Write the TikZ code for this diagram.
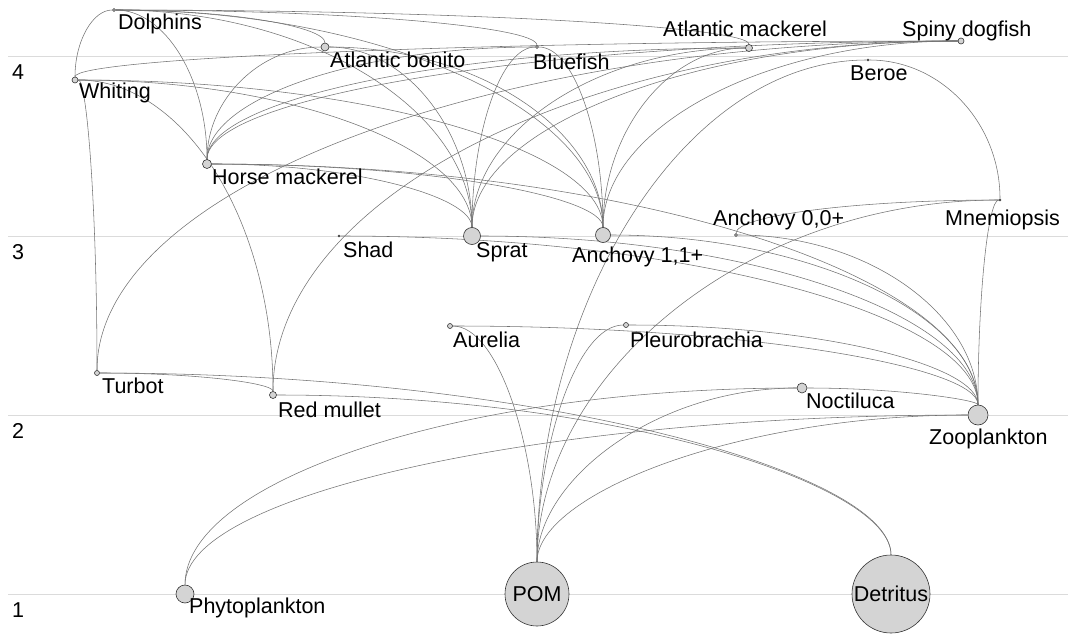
\documentclass[tikz,border=0pt]{standalone}
\usepackage{fontspec}
\setmainfont{Liberation Sans}
\usetikzlibrary{calc,backgrounds}

% feeding link: leaves the prey upwards and reaches the predator sideways
\newcommand{\fwlink}[2]{\draw[link] (#1) .. controls ($(#1)!0.5523!(#1|-#2)$) and ($(#2)!0.5523!(#1|-#2)$) .. (#2);}

\begin{document}
\begin{tikzpicture}[x=1pt,y=-1pt,
  sp/.style={circle, draw=black!80, fill=black!17, line width=0.6pt, inner sep=0pt, minimum size=#1},
  lab/.style={anchor=base west, inner sep=0pt, font=\fontsize{21.5}{24}\selectfont},
  link/.style={draw=black!55, line width=0.55pt},
  level/.style={draw=black!14, line width=1pt}]

\useasboundingbox (0,0) rectangle (1068,634);

% species
\node[sp=3pt]  (dol) at (114,10) {};
\node[sp=6pt]  (whi) at (75,80) {};
\node[sp=8pt]  (bon) at (325,47) {};
\node[sp=3pt]  (blu) at (537,47) {};
\node[sp=7pt]  (mac) at (749,48) {};
\node[sp=6pt]  (dog) at (961,41) {};
\node[sp=2pt]  (ber) at (868,60) {};
\node[sp=9pt]  (hmk) at (207,164) {};
\node[sp=2pt]  (shad) at (339,236) {};
\node[sp=17pt] (spr) at (472,236) {};
\node[sp=15pt] (anc) at (603,235) {};
\node[sp=3pt]  (an0) at (736,235) {};
\node[sp=2pt]  (mne) at (1000,200) {};
\node[sp=5pt]  (aur) at (450,326) {};
\node[sp=5pt]  (ple) at (626,325) {};
\node[sp=5pt]  (tur) at (97,373) {};
\node[sp=7pt]  (rmu) at (273,395) {};
\node[sp=10pt] (noc) at (802,388) {};
\node[sp=20pt] (zoo) at (978,415) {};
\node[sp=18pt] (phy) at (185,594) {};
\node[sp=64pt, font=\fontsize{21.5}{24}\selectfont] (pom) at (537,594) {POM};
\node[sp=78pt, font=\fontsize{21.5}{24}\selectfont] (det) at (891,594) {Detritus};

\begin{scope}[on background layer]
% trophic level guides
\foreach \yy/\tl in {57/4,236/3,415/2,594/1}{
  \draw[level] (8,\yy) -- (1068,\yy);
  \node[lab] (tl\tl) at (12,\yy+23) {\tl};
}
% links (prey -> predator)
\fwlink{phy}{zoo}
\fwlink{phy}{noc}
\fwlink{pom}{zoo}
\fwlink{pom}{noc}
\fwlink{pom}{aur}
\fwlink{pom}{ple}
\fwlink{pom}{mne}
\fwlink{pom}{ber}
\fwlink{det}{tur}
\fwlink{det}{rmu}
\fwlink{zoo}{noc}
\fwlink{zoo}{aur}
\fwlink{zoo}{ple}
\fwlink{zoo}{shad}
\fwlink{zoo}{spr}
\fwlink{zoo}{anc}
\fwlink{zoo}{an0}
\fwlink{zoo}{mne}
\fwlink{zoo}{hmk}
\fwlink{rmu}{tur}
\fwlink{rmu}{whi}
\fwlink{rmu}{dog}
\fwlink{tur}{whi}
\fwlink{tur}{dog}
\fwlink{an0}{mne}
\fwlink{mne}{ber}
\foreach \pd in {hmk,whi,dol,bon,blu,mac,dog}{
  \fwlink{spr}{\pd}
  \fwlink{anc}{\pd}
}
\foreach \pd in {dol,bon,blu,mac,dog}{
  \fwlink{hmk}{\pd}
}
\fwlink{whi}{dol}
\fwlink{whi}{dog}
\fwlink{bon}{dol}
\fwlink{blu}{dol}
\fwlink{mac}{dol}
\end{scope}

% names
\node[lab] (ldol) at (118,30) {Dolphins};
\node[lab] (lbon) at (330,67) {Atlantic bonito};
\node[lab] (lblu) at (533,70) {Bluefish};
\node[lab] (lmac) at (663,37) {Atlantic mackerel};
\node[lab] (ldog) at (902,37) {Spiny dogfish};
\node[lab] (lber) at (850,81) {Beroe};
\node[lab] (lwhi) at (79,99) {Whiting};
\node[lab] (lhmk) at (212,184) {Horse mackerel};
\node[lab] (lan0) at (713,225) {Anchovy 0,0+};
\node[lab] (lmne) at (945,225) {Mnemiopsis};
\node[lab] (lshad) at (343,257) {Shad};
\node[lab] (lspr) at (476,257) {Sprat};
\node[lab] (lanc) at (572,262) {Anchovy 1,1+};
\node[lab] (laur) at (453,347) {Aurelia};
\node[lab] (lple) at (630,347) {Pleurobrachia};
\node[lab] (ltur) at (102,393) {Turbot};
\node[lab] (lrmu) at (278,417) {Red mullet};
\node[lab] (lnoc) at (806,408) {Noctiluca};
\node[lab] (lzoo) at (929,444) {Zooplankton};
\node[lab] (lphy) at (189,613) {Phytoplankton};
\end{tikzpicture}
\end{document}
